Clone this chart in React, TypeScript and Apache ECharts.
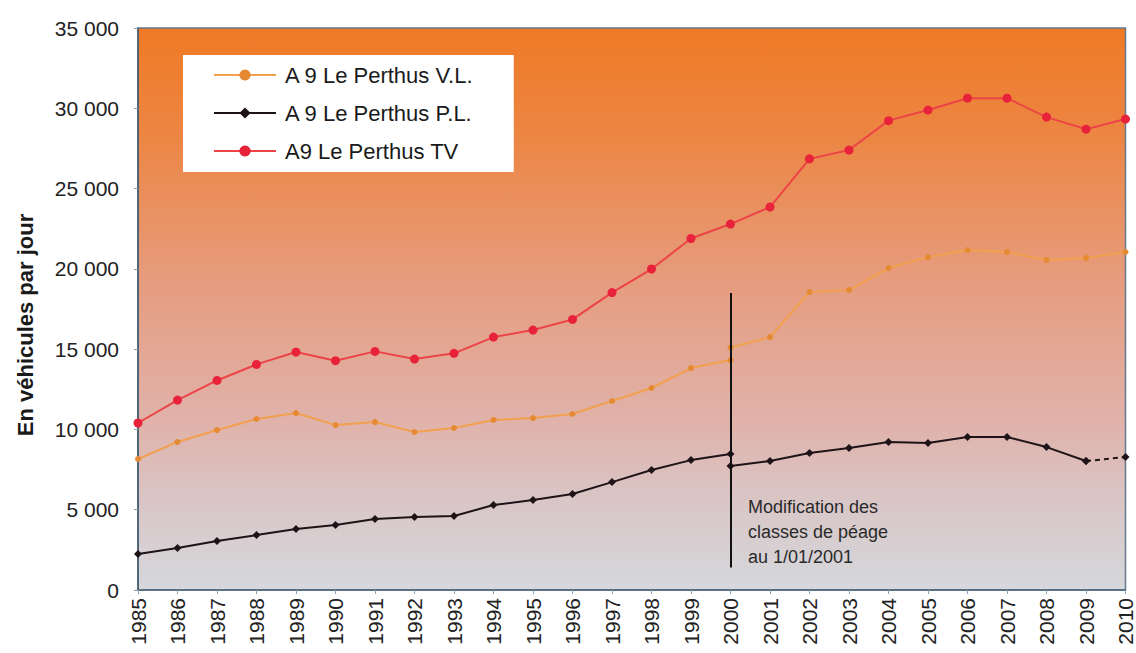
import React, { useEffect, useRef } from "react";
import * as echarts from "echarts";

const years: string[] = [
  "1985", "1986", "1987", "1988", "1989", "1990", "1991", "1992", "1993",
  "1994", "1995", "1996", "1997", "1998", "1999", "2000", "2001", "2002",
  "2003", "2004", "2005", "2006", "2007", "2008", "2009", "2010",
];

// Total traffic (TV)
const tv: number[] = [
  10400, 11830, 13050, 14050, 14820, 14280, 14860, 14380, 14740, 15750,
  16190, 16850, 18520, 19990, 21890, 22790, 23850, 26850, 27400, 29230,
  29890, 30630, 30630, 29450, 28700, 29330,
];

// Light vehicles (V.L.) — old classes 1985-2000, new classes 2000-2010
const vlOld: number[] = [
  8160, 9220, 9960, 10650, 11020, 10270, 10460, 9840, 10090, 10590, 10710,
  10960, 11770, 12580, 13820, 14320,
];
const vlNew: number[] = [
  15100, 15750, 18560, 18680, 20050, 20730, 21170, 21050, 20550, 20670, 21050,
];

// Heavy vehicles (P.L.) — old classes 1985-2000, new classes 2000-2009, estimate 2009-2010
const plOld: number[] = [
  2240, 2620, 3050, 3420, 3800, 4050, 4420, 4550, 4610, 5290, 5600, 5980,
  6720, 7470, 8090, 8470,
];
const plNew: number[] = [7720, 8030, 8530, 8840, 9220, 9150, 9530, 9530, 8900, 8030];
const plEst: number[] = [8030, 8280];

const seriesNames: string[] = [
  "A 9 Le Perthus V.L.",
  "A 9 Le Perthus P.L.",
  "A9 Le Perthus TV",
];

const yTicks = { min: 0, max: 35000, interval: 5000 };
const annotationYear = "2000";
const annotationRange: number[] = [18500, 1400];
const annotationLines: string[] = [
  "Modification des",
  "classes de péage",
  "au 1/01/2001",
];
const yAxisTitle = "En véhicules par jour";

function place(values: number[], startYear: string): (number | null)[] {
  const start = years.indexOf(startYear);
  return years.map((_, i) =>
    i >= start && i - start < values.length ? values[i - start] : null
  );
}

const FONT = "Liberation Sans, Arial, sans-serif";

export default function App() {
  const ref = useRef<HTMLDivElement>(null);

  useEffect(() => {
    if (!ref.current) return;
    const chart = echarts.init(ref.current, undefined, { renderer: "svg" });

    const vlColor = "#f2a04e";
    const vlMarker = "#e58a32";
    const plColor = "#1e1418";
    const tvColor = "#ec4446";
    const tvMarker = "#e8223a";

    const vlStyle = {
      type: "line" as const,
      name: seriesNames[0],
      symbol: "circle",
      symbolSize: 6,
      lineStyle: { color: vlColor, width: 2 },
      itemStyle: { color: vlMarker },
      z: 3,
    };
    const plStyle = {
      type: "line" as const,
      name: seriesNames[1],
      symbol: "diamond",
      symbolSize: 8,
      lineStyle: { color: plColor, width: 2 },
      itemStyle: { color: plColor },
      z: 3,
    };

    const option: any = {
      animation: false,
      backgroundColor: "#ffffff",
      textStyle: { fontFamily: FONT },
      grid: {
        left: 138,
        top: 28,
        right: 5,
        bottom: 63,
        show: true,
        borderColor: "#66788a",
        borderWidth: 1.5,
        backgroundColor: new echarts.graphic.LinearGradient(0, 0, 0, 1, [
          { offset: 0, color: "#ef7a25" },
          { offset: 0.2, color: "#ec8645" },
          { offset: 0.45, color: "#e69c7e" },
          { offset: 0.7, color: "#e0b2aa" },
          { offset: 0.85, color: "#d9c7c8" },
          { offset: 1, color: "#d5d8dc" },
        ]),
      },
      legend: {
        data: seriesNames,
        orient: "vertical",
        left: 183,
        top: 55,
        backgroundColor: "#ffffff",
        padding: [9, 40, 10, 30],
        itemGap: 16,
        itemWidth: 62,
        itemHeight: 14,
        textStyle: {
          fontFamily: FONT,
          fontSize: 22,
          lineHeight: 22,
          color: "#1a1a1a",
          padding: [0, 0, 0, 4],
        },
      },
      xAxis: {
        type: "category",
        data: years,
        boundaryGap: false,
        axisLine: { lineStyle: { color: "#4b6578", width: 1.5 } },
        axisTick: { show: true, length: 4, lineStyle: { color: "#8aa0b0" } },
        axisLabel: {
          rotate: 90,
          fontSize: 21,
          color: "#222",
          margin: 8,
          interval: 0,
          fontFamily: FONT,
        },
        splitLine: { show: false },
      },
      yAxis: {
        type: "value",
        min: yTicks.min,
        max: yTicks.max,
        interval: yTicks.interval,
        axisLine: { show: true, lineStyle: { color: "#3f5a6c", width: 1.5 } },
        axisTick: { show: true, length: 4, lineStyle: { color: "#8aa0b0" } },
        splitLine: { show: false },
        axisLabel: {
          fontSize: 21,
          color: "#222",
          margin: 19,
          fontFamily: FONT,
          formatter: (v: number) =>
            String(v).replace(/\B(?=(\d{3})+(?!\d))/g, " "),
        },
      },
      graphic: [
        {
          type: "text",
          x: 25,
          y: 325,
          rotation: Math.PI / 2,
          style: {
            text: yAxisTitle,
            fontFamily: FONT,
            fontSize: 22,
            fontWeight: "bold",
            fill: "#1a1a1a",
            align: "center",
            verticalAlign: "middle",
          },
        },
        {
          type: "text",
          left: 748,
          top: 494,
          style: {
            text: annotationLines.join("\n"),
            fontFamily: FONT,
            fontSize: 18,
            lineHeight: 25,
            fill: "#2a2a2a",
          },
        },
      ],
      series: [
        { ...vlStyle, data: place(vlOld, "1985") },
        { ...vlStyle, data: place(vlNew, "2000") },
        {
          ...plStyle,
          data: place(plOld, "1985"),
          markLine: {
            silent: true,
            symbol: ["none", "none"],
            label: { show: false },
            lineStyle: { color: "#111", width: 2, type: "solid" },
            data: [
              [
                { coord: [annotationYear, annotationRange[0]] },
                { coord: [annotationYear, annotationRange[1]] },
              ],
            ],
          },
        },
        { ...plStyle, data: place(plNew, "2000") },
        {
          ...plStyle,
          data: place(plEst, "2009"),
          lineStyle: { color: plColor, width: 2, type: [5, 4] },
        },
        {
          type: "line",
          name: seriesNames[2],
          data: tv,
          symbol: "circle",
          symbolSize: 9,
          lineStyle: { color: tvColor, width: 2 },
          itemStyle: { color: tvMarker },
          z: 4,
        },
      ],
    };

    chart.setOption(option);
    return () => chart.dispose();
  }, []);

  return (
    <div
      ref={ref}
      style={{ position: "fixed", left: 0, top: 0, width: 1136, height: 653 }}
    />
  );
}
